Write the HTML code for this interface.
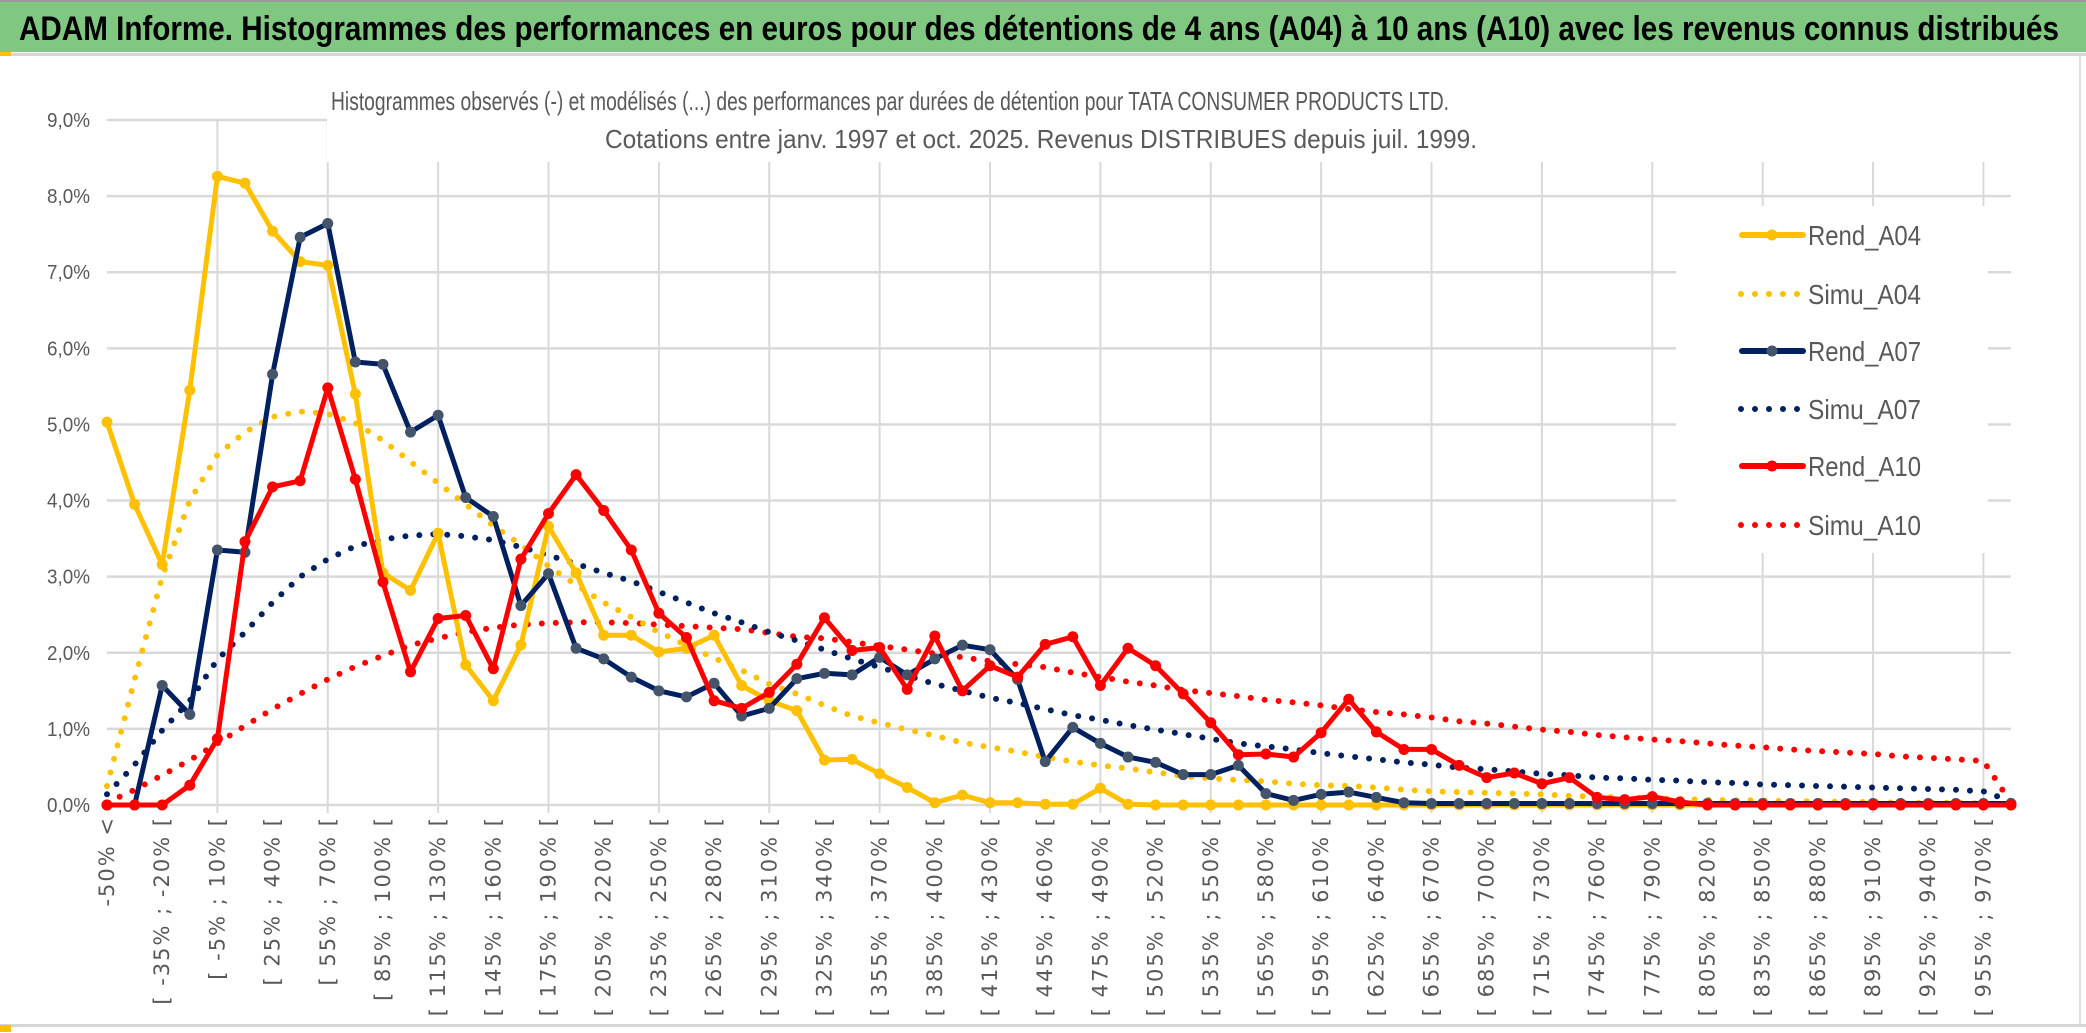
<!DOCTYPE html>
<html><head><meta charset="utf-8"><style>
html,body{margin:0;padding:0;background:#fff;width:2086px;height:1033px;overflow:hidden}
svg{display:block}
</style></head><body>
<svg id="chart" width="2086" height="1033" viewBox="0 0 2086 1033" xmlns="http://www.w3.org/2000/svg">
<rect x="0" y="0" width="2086" height="1033" fill="#fff"/>
<rect x="0" y="2" width="2086" height="50" fill="#80C882"/>
<rect x="0" y="0" width="2086" height="2" fill="#9a9a9a"/>
<rect x="0" y="53" width="2086" height="3" fill="#d6d6d6"/>
<rect x="0" y="52" width="11" height="4" fill="#FFC000"/>
<rect x="0" y="1024" width="2086" height="3" fill="#d6d6d6"/>
<rect x="0" y="1025" width="11" height="7" fill="#FFC000"/>
<rect x="2079" y="56" width="2" height="968" fill="#e0e0e0"/>
<text x="19" y="40" font-family="Liberation Sans, sans-serif" font-weight="bold" font-size="34" fill="#000" textLength="2040" lengthAdjust="spacingAndGlyphs">ADAM Informe. Histogrammes des performances en euros pour des détentions de 4 ans (A04) à 10 ans (A10) avec les revenus connus distribués</text>
<g id="grid"></g>
<rect x="327" y="68" width="1700" height="94" fill="#fff"/>
<text x="331" y="110" font-family="Liberation Sans, sans-serif" font-size="26" fill="#595959" textLength="1118" lengthAdjust="spacingAndGlyphs">Histogrammes observés (-) et modélisés (...) des performances par durées de détention pour TATA CONSUMER PRODUCTS LTD.</text>
<text x="605" y="148" font-family="Liberation Sans, sans-serif" font-size="26" fill="#595959" textLength="872" lengthAdjust="spacingAndGlyphs">Cotations entre janv. 1997 et oct. 2025. Revenus DISTRIBUES depuis juil. 1999.</text>
<g id="yaxis"></g>
<g id="xaxis"></g>
<g id="series"></g>
<g id="legend"></g>
</svg>
<script>
const rendA04 = [5.03,3.95,3.16,5.45,8.26,8.17,7.54,7.14,7.09,5.40,3.05,2.82,3.57,1.84,1.37,2.10,3.66,3.05,2.23,2.23,2.01,2.06,2.23,1.57,1.37,1.24,0.59,0.60,0.41,0.23,0.03,0.13,0.03,0.03,0.01,0.01,0.22,0.01,0,0,0,0,0,0,0,0,0,0,0,0,0,0,0,0,0,0,0,0,0,0,0,0,0,0,0,0,0,0,0,0];
const simuA04 = [0.25,1.65,3.0,4.0,4.6,4.9,5.1,5.17,5.14,5.02,4.79,4.51,4.23,3.95,3.67,3.42,3.14,2.89,2.66,2.47,2.27,2.10,1.93,1.77,1.59,1.46,1.31,1.17,1.08,0.99,0.91,0.82,0.76,0.70,0.63,0.57,0.52,0.48,0.43,0.38,0.35,0.33,0.31,0.28,0.26,0.25,0.23,0.20,0.18,0.17,0.16,0.15,0.14,0.12,0.11,0.10,0.09,0.08,0.07,0.06,0.06,0.05,0.05,0.04,0.04,0.03,0.03,0.03,0.02,0];
const rendA07 = [0,0,1.57,1.19,3.35,3.32,5.66,7.46,7.64,5.82,5.79,4.90,5.12,4.04,3.79,2.62,3.04,2.06,1.92,1.68,1.50,1.42,1.60,1.17,1.27,1.66,1.73,1.71,1.94,1.71,1.92,2.10,2.04,1.65,0.57,1.02,0.81,0.63,0.56,0.40,0.40,0.52,0.15,0.06,0.14,0.17,0.10,0.03,0.02,0.02,0.02,0.02,0.02,0.02,0.02,0.02,0.02,0.02,0.02,0.02,0.02,0.02,0.02,0.02,0.02,0.02,0.02,0.02,0.02,0.02];
const simuA07 = [0.14,0.53,0.98,1.37,1.91,2.27,2.66,3.0,3.23,3.40,3.49,3.54,3.56,3.53,3.48,3.39,3.28,3.17,3.05,2.94,2.80,2.66,2.52,2.40,2.27,2.16,2.04,1.92,1.81,1.70,1.59,1.50,1.41,1.34,1.26,1.18,1.12,1.05,0.99,0.93,0.87,0.81,0.77,0.73,0.68,0.64,0.60,0.56,0.53,0.49,0.47,0.44,0.41,0.39,0.36,0.35,0.33,0.32,0.30,0.29,0.27,0.26,0.25,0.24,0.23,0.22,0.21,0.20,0.18,0.05];
const rendA10 = [0,0,0,0.26,0.87,3.46,4.18,4.26,5.48,4.28,2.93,1.75,2.45,2.49,1.79,3.23,3.83,4.34,3.87,3.35,2.52,2.20,1.37,1.27,1.48,1.85,2.46,2.03,2.07,1.52,2.22,1.50,1.83,1.68,2.11,2.21,1.57,2.06,1.83,1.46,1.08,0.66,0.67,0.63,0.95,1.39,0.96,0.73,0.73,0.52,0.36,0.42,0.28,0.36,0.10,0.07,0.11,0.04,0,0,0,0,0,0,0,0,0,0,0,0];
const simuA10 = [0.03,0.20,0.39,0.59,0.81,1.04,1.26,1.46,1.65,1.82,1.96,2.10,2.19,2.27,2.33,2.37,2.39,2.40,2.40,2.39,2.37,2.35,2.33,2.31,2.26,2.21,2.19,2.14,2.09,2.04,1.99,1.94,1.89,1.85,1.81,1.74,1.68,1.62,1.57,1.51,1.47,1.43,1.38,1.35,1.31,1.26,1.22,1.19,1.15,1.10,1.07,1.03,0.99,0.96,0.92,0.89,0.86,0.84,0.81,0.78,0.76,0.73,0.71,0.69,0.67,0.64,0.62,0.60,0.58,0.03];
const yTicks = [0,1,2,3,4,5,6,7,8,9];
const categories = ["-50% <"];
for (let k = 0; k < 68; k++) categories.push("[ " + (-50 + 15 * k) + "% ; " + (-35 + 15 * k) + "% [");
categories.push("> 970%");

const NS = "http://www.w3.org/2000/svg";
const X0 = 107, X1 = 2011, Y0 = 805, YTOP = 120;
const xs = i => X0 + (X1 - X0) * i / (categories.length - 1);
const ys = v => Y0 - (Y0 - YTOP) * v / 9;
function mk(tag, attrs, parent){const e=document.createElementNS(NS,tag);for(const k in attrs)e.setAttribute(k,attrs[k]);parent.appendChild(e);return e;}

const grid = document.getElementById('grid');
yTicks.forEach(t => {
  const l = mk('line',{x1:X0,x2:X1,y1:ys(t),y2:ys(t),stroke:'#d9d9d9','stroke-width':2.5},grid);
  
  
});
for (let i = 4; i < categories.length; i += 4) {
  const l = mk('line',{x1:xs(i),x2:xs(i),y1:ys(9),y2:Y0+8,stroke:'#d9d9d9','stroke-width':2},grid);
  
  
}
const yax = document.getElementById('yaxis');
yTicks.forEach(t => {
  const tx = mk('text',{x:90,y:ys(t)+7,'text-anchor':'end','font-family':'Liberation Sans, sans-serif','font-size':20,fill:'#595959',textLength:43,lengthAdjust:'spacingAndGlyphs'},yax);
  tx.textContent = t.toFixed(1).replace('.',',') + '%';
  
  
});
const xax = document.getElementById('xaxis');
categories.forEach((c,i) => {
  if (i % 2) return;
  const x = xs(i) + 7, y = 816;
  const tx = mk('text',{x:x,y:y,'text-anchor':'end',transform:`rotate(-90 ${x} ${y})`,'font-family':'DejaVu Sans, sans-serif','font-size':21,'letter-spacing':2,fill:'#595959'},xax);
  tx.textContent = c;
  
  
});

const ser = document.getElementById('series');
function pts(arr){return arr.map((v,i)=>xs(i).toFixed(1)+','+ys(v).toFixed(1)).join(' ');}
function dotted(arr,color,name){
  const p = mk('polyline',{points:pts(arr),fill:'none',stroke:color,'stroke-width':6,'stroke-linecap':'round','stroke-dasharray':'0 14'},ser);
  
  
}
function solid(arr,color,mcolor,name){
  const p = mk('polyline',{points:pts(arr),fill:'none',stroke:color,'stroke-width':5,'stroke-linejoin':'round'},ser);
  
  
  arr.forEach((v,i)=>{
    const c = mk('circle',{cx:xs(i),cy:ys(v),r:5.5,fill:mcolor},ser);
    
    
  });
}
dotted(simuA10,'#FF0000','simu-a10-line');
dotted(simuA07,'#002060','simu-a07-line');
dotted(simuA04,'#FFC000','simu-a04-line');
solid(rendA04,'#FFC000','#FFC000','rend-a04-line');
solid(rendA07,'#002060','#44546A','rend-a07-line');
solid(rendA10,'#FF0000','#FF0000','rend-a10-line');

const leg = document.getElementById('legend');
mk('rect',{x:1676,y:206,width:312,height:347,fill:'#fff'},leg);
const items = [['Rend_A04','#FFC000','#FFC000',false],['Simu_A04','#FFC000',null,true],['Rend_A07','#002060','#44546A',false],['Simu_A07','#002060',null,true],['Rend_A10','#FF0000','#FF0000',false],['Simu_A10','#FF0000',null,true]];
const rows = [235,294,351,409,466,525];
items.forEach((it,k)=>{
  const g = mk('g',{},leg);
  
  
  const y = rows[k];
  if (it[3]) mk('line',{x1:1741,x2:1800,y1:y,y2:y,stroke:it[1],'stroke-width':6,'stroke-linecap':'round','stroke-dasharray':'0 14'},g);
  else { mk('line',{x1:1742,x2:1803,y1:y,y2:y,stroke:it[1],'stroke-width':6,'stroke-linecap':'round'},g);
         mk('circle',{cx:1772,cy:y,r:5.5,fill:it[2]},g); }
  const t = mk('text',{x:1808,y:y+10,'font-family':'Liberation Sans, sans-serif','font-size':28,fill:'#595959',textLength:113,lengthAdjust:'spacingAndGlyphs'},g);
  t.textContent = it[0];
});
</script>
</body></html>
